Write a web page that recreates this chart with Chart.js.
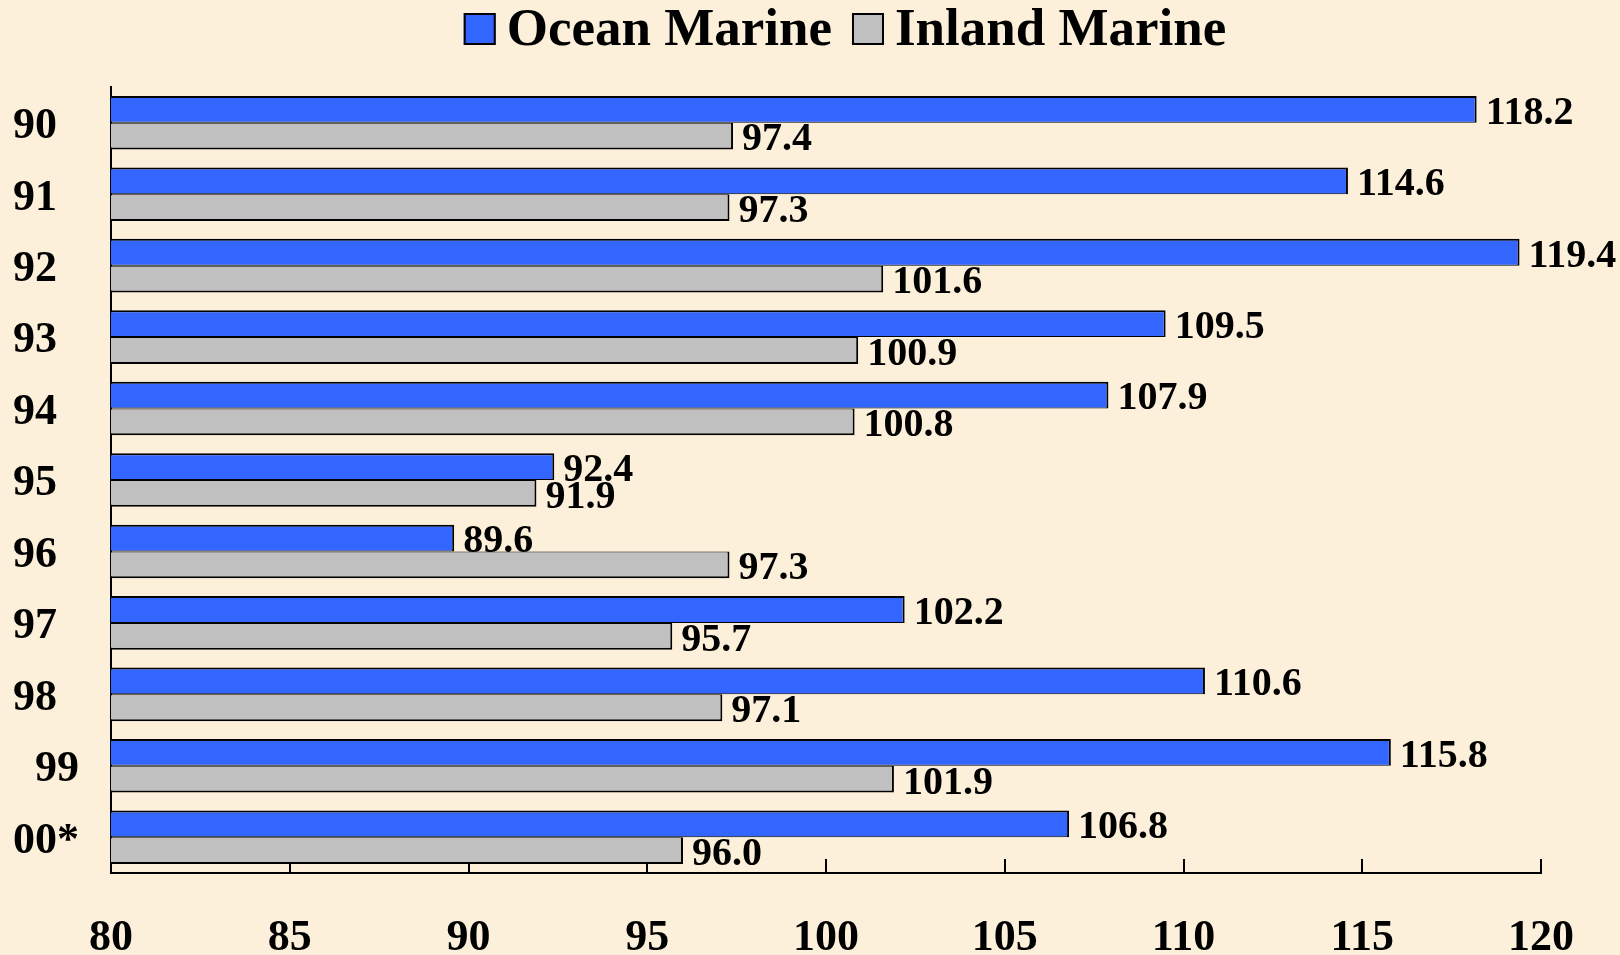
<!DOCTYPE html>
<html>
<head>
<meta charset="utf-8">
<title>Ocean Marine vs Inland Marine</title>
<script src="https://cdn.jsdelivr.net/npm/chart.js@4/dist/chart.umd.min.js"></script>
<style>
  html, body { margin: 0; padding: 0; background: #FCF0DA; }
  #wrap { width: 1620px; height: 955px; position: relative; }
</style>
</head>
<body>
<div id="wrap"><canvas id="chart"></canvas></div>
<script>
// ── Datos ─────────────────────────────────────────────────────────────
const years  = ["90", "91", "92", "93", "94", "95", "96", "97", "98", "  99", "00*"];
const ocean  = [118.2, 114.6, 119.4, 109.5, 107.9, 92.4, 89.6, 102.2, 110.6, 115.8, 106.8];
const inland = [97.4, 97.3, 101.6, 100.9, 100.8, 91.9, 97.3, 95.7, 97.1, 101.9, 96.0];
const X_MIN = 80, X_MAX = 120, X_STEP = 5;

// ── Estilo ────────────────────────────────────────────────────────────
const C_BLUE  = "#3366FF";
const C_GRAY  = "#C0C0C0";
const SERIF   = "'Liberation Serif', 'Times New Roman', serif";

// Leyenda dibujada a mano (caja + texto, centrada un poco a la derecha)
const legendPlugin = {
  id: "legendaManual",
  afterDraw(chart) {
    const ctx = chart.ctx;
    const box = 32, gap = 11, sep = 20, top = 13;
    ctx.save();
    ctx.font = `bold 53px ${SERIF}`;
    const items = chart.data.datasets.map(ds => ({
      text: ds.label, color: ds.backgroundColor, w: box + gap + ctx.measureText(ds.label).width
    }));
    const total = items.reduce((s, it) => s + it.w, 0) + sep * (items.length - 1);
    let x = 845 - total / 2;
    items.forEach(it => {
      ctx.fillStyle = it.color;
      ctx.fillRect(x, top, box, box);
      ctx.lineWidth = 2;
      ctx.strokeStyle = "#000";
      ctx.strokeRect(x + 1, top + 1, box - 2, box - 2);
      ctx.fillStyle = "#000";
      ctx.textBaseline = "alphabetic";
      ctx.textAlign = "left";
      ctx.fillText(it.text, x + box + gap, top + box);
      x += it.w + sep;
    });
    ctx.restore();
  }
};

// Etiquetas de valor al final de cada barra
const valoresPlugin = {
  id: "valores",
  afterDatasetsDraw(chart) {
    const ctx = chart.ctx;
    ctx.save();
    ctx.font = `bold 40px ${SERIF}`;
    ctx.fillStyle = "#000";
    ctx.textAlign = "left";
    ctx.textBaseline = "middle";
    chart.data.datasets.forEach((ds, i) => {
      chart.getDatasetMeta(i).data.forEach((bar, j) => {
        ctx.fillText(ds.data[j].toFixed(1), bar.x + 9, bar.y + 4);
      });
    });
    ctx.restore();
  }
};

// Bajar un poco los años del eje Y (en el original quedan algo más abajo)
const bajarEtiquetas = {
  id: "bajarEtiquetas",
  afterUpdate(chart) {
    chart.scales.y.getLabelItems().forEach(it => { it.options.translation[1] += 4; });
  }
};

new Chart(document.getElementById("chart"), {
  type: "bar",
  data: {
    labels: years,
    datasets: [
      { label: "Ocean Marine", data: ocean, backgroundColor: C_BLUE, borderColor: "#000",
        borderWidth: { top: 2, right: 2, bottom: 1, left: 0 }, borderSkipped: "start" },
      { label: "Inland Marine", data: inland, backgroundColor: C_GRAY, borderColor: "#000",
        borderWidth: { top: 1, right: 2, bottom: 2, left: 0 }, borderSkipped: "start" },
    ],
  },
  options: {
    indexAxis: "y",
    responsive: true, maintainAspectRatio: false,
    animation: false,
    categoryPercentage: 0.75,
    barPercentage: 1.0,
    layout: { padding: { top: 87, right: 79, bottom: 0, left: 13 } },
    plugins: { legend: { display: false }, tooltip: { enabled: false } },
    scales: {
      x: {
        min: X_MIN, max: X_MAX,
        ticks: { stepSize: X_STEP, color: "#000", padding: 53,
                 font: { family: SERIF, size: 44, weight: "bold" } },
        grid: { drawOnChartArea: false, drawTicks: true, tickLength: -14, color: "#000", lineWidth: 2 },
        border: { display: true, color: "#000", width: 2 },
        // alto fijo y sin margen lateral extra (el padding de los ticks lo inflaba)
        afterFit: s => { s.height = 82; s.paddingLeft = 0; s.paddingRight = 0; },
      },
      y: {
        ticks: { color: "#000", crossAlign: "far",
                 font: { family: SERIF, size: 44, weight: "bold" } },
        grid: { display: false, drawTicks: false },
        border: { display: true, color: "#000", width: 2 },
        afterFit: s => { s.width = 98; },
      },
    },
  },
  plugins: [legendPlugin, valoresPlugin, bajarEtiquetas],
});
</script>
</body>
</html>
